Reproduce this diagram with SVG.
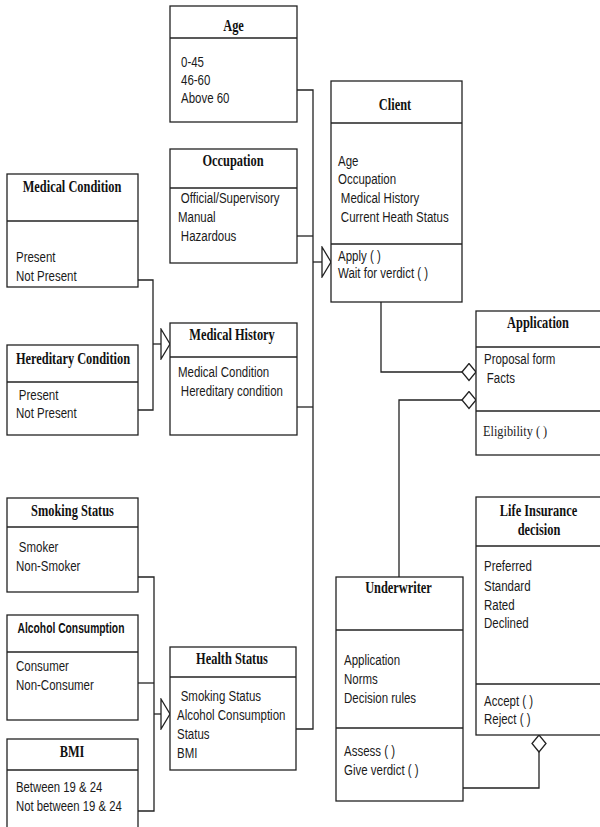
<svg xmlns="http://www.w3.org/2000/svg" width="600" height="827" viewBox="0 0 600 827">
  <style>
    .box { fill: #ffffff; stroke: #222222; stroke-width: 1.3; }
    .div { stroke: #222222; stroke-width: 1.3; }
    .title { font-family: "Liberation Serif", "Times New Roman", serif; font-weight: bold; font-size: 16.5px; fill: #111111; text-anchor: middle; }
    .title-sans { font-family: "Liberation Sans", Arial, sans-serif; font-weight: bold; font-size: 14.5px; fill: #111111; text-anchor: middle; }
    .items text { font-family: "Liberation Sans", Arial, sans-serif; font-size: 14px; fill: #1a1a1a; }
    .serif-item { font-family: "Liberation Serif", "Times New Roman", serif; font-size: 15px; fill: #1a1a1a; }
    .conn path { fill: none; stroke: #222222; stroke-width: 1.3; }
  </style>
  <defs>
    <!-- hollow generalization head, pointing along the path -->
    <marker id="tri" viewBox="0 0 11 32" markerWidth="11" markerHeight="32" refX="10" refY="16" orient="auto" markerUnits="userSpaceOnUse">
      <path d="M1,1 L10,16 L1,31 Z" fill="#ffffff" stroke="#222222" stroke-width="1.3"/>
    </marker>
    <!-- hollow aggregation diamond for horizontal ends -->
    <marker id="dia-h" viewBox="0 0 16 19" markerWidth="16" markerHeight="19" refX="15" refY="9.5" orient="auto" markerUnits="userSpaceOnUse">
      <path d="M1,9.5 L8,1 L15,9.5 L8,18 Z" fill="#ffffff" stroke="#222222" stroke-width="1.3"/>
    </marker>
    <!-- hollow aggregation diamond for vertical ends -->
    <marker id="dia-v" viewBox="0 0 19 16" markerWidth="19" markerHeight="16" refX="18" refY="8" orient="auto" markerUnits="userSpaceOnUse">
      <path d="M1,8 L9.5,1 L18,8 L9.5,15 Z" fill="#ffffff" stroke="#222222" stroke-width="1.3"/>
    </marker>
  </defs>

  <rect width="600" height="827" fill="#ffffff"/>

  <g id="connectors" class="conn">
    <!-- attribute classes feeding Client -->
    <path d="M297,90 H313 V729 H296"/>
    <path d="M297,236 H313"/>
    <path d="M297,407 H313"/>
    <path d="M313,262 H331" marker-end="url(#tri)"/>
    <!-- conditions feeding Medical History -->
    <path d="M138,280 H153 V410 H138"/>
    <path d="M153,344 H170" marker-end="url(#tri)"/>
    <!-- lifestyle factors feeding Health Status -->
    <path d="M138,577 H154 V811 H138"/>
    <path d="M138,683 H154"/>
    <path d="M154,714 H170" marker-end="url(#tri)"/>
    <!-- aggregations -->
    <path d="M381,302 V372 H476" marker-end="url(#dia-h)"/>
    <path d="M399,577 V400 H476" marker-end="url(#dia-h)"/>
    <path d="M463,788 H539 V735" marker-end="url(#dia-v)"/>
  </g>

  <g id="age">
    <rect class="box" x="170" y="6" width="127" height="116"/>
    <line class="div" x1="170" y1="38" x2="297" y2="38"/>
    <text class="title" transform="translate(233.5 31) scale(0.75 1)">Age</text>
    <g class="items" transform="translate(181 0) scale(0.82 1)">
      <text x="0" y="67">0-45</text>
      <text x="0" y="85">46-60</text>
      <text x="0" y="103">Above 60</text>
    </g>
  </g>

  <g id="occupation">
    <rect class="box" x="170" y="149" width="127" height="114"/>
    <line class="div" x1="170" y1="188" x2="297" y2="188"/>
    <text class="title" transform="translate(233 166) scale(0.75 1)">Occupation</text>
    <g class="items" transform="translate(178 0) scale(0.82 1)">
      <text x="3.5" y="203">Official/Supervisory</text>
      <text x="0" y="222">Manual</text>
      <text x="3.5" y="241">Hazardous</text>
    </g>
  </g>

  <g id="client">
    <rect class="box" x="331" y="81" width="131" height="221"/>
    <line class="div" x1="331" y1="123" x2="462" y2="123"/>
    <line class="div" x1="331" y1="244" x2="462" y2="244"/>
    <text class="title" transform="translate(395 110) scale(0.75 1)">Client</text>
    <g class="items" transform="translate(338 0) scale(0.82 1)">
      <text x="0" y="166">Age</text>
      <text x="0" y="184">Occupation</text>
      <text x="3.5" y="203">Medical History</text>
      <text x="3.5" y="222">Current Heath Status</text>
      <text x="0" y="261">Apply ( )</text>
      <text x="0" y="278">Wait for verdict ( )</text>
    </g>
  </g>

  <g id="medical-condition">
    <rect class="box" x="7" y="174" width="131" height="113"/>
    <line class="div" x1="7" y1="221" x2="138" y2="221"/>
    <text class="title" transform="translate(72 192) scale(0.75 1)">Medical Condition</text>
    <g class="items" transform="translate(16 0) scale(0.82 1)">
      <text x="0" y="262">Present</text>
      <text x="0" y="281">Not Present</text>
    </g>
  </g>

  <g id="hereditary-condition">
    <rect class="box" x="7" y="345" width="131" height="90"/>
    <line class="div" x1="7" y1="382" x2="138" y2="382"/>
    <text class="title" transform="translate(73 364) scale(0.75 1)">Hereditary  Condition</text>
    <g class="items" transform="translate(16 0) scale(0.82 1)">
      <text x="3.5" y="400">Present</text>
      <text x="0" y="418">Not Present</text>
    </g>
  </g>

  <g id="medical-history">
    <rect class="box" x="170" y="323" width="127" height="112"/>
    <line class="div" x1="170" y1="357" x2="297" y2="357"/>
    <text class="title" transform="translate(232 340) scale(0.75 1)">Medical History</text>
    <g class="items" transform="translate(178 0) scale(0.82 1)">
      <text x="0" y="377">Medical Condition</text>
      <text x="3.5" y="396">Hereditary condition</text>
    </g>
  </g>

  <g id="application">
    <rect class="box" x="476" y="311" width="130" height="144"/>
    <line class="div" x1="476" y1="347" x2="606" y2="347"/>
    <line class="div" x1="476" y1="411" x2="606" y2="411"/>
    <text class="title" transform="translate(538 328) scale(0.75 1)">Application</text>
    <g class="items" transform="translate(484 0) scale(0.82 1)">
      <text x="0" y="364">Proposal form</text>
      <text x="3.5" y="383">Facts</text>
    </g>
    <text class="serif-item" transform="translate(483 436) scale(0.82 1)">Eligibility ( )</text>
  </g>

  <g id="smoking-status">
    <rect class="box" x="7" y="498" width="131" height="94"/>
    <line class="div" x1="7" y1="527" x2="138" y2="527"/>
    <text class="title" transform="translate(72.5 516) scale(0.75 1)">Smoking Status</text>
    <g class="items" transform="translate(16 0) scale(0.82 1)">
      <text x="3.5" y="552">Smoker</text>
      <text x="0" y="571">Non-Smoker</text>
    </g>
  </g>

  <g id="alcohol-consumption">
    <rect class="box" x="7" y="615" width="131" height="105"/>
    <line class="div" x1="7" y1="652" x2="138" y2="652"/>
    <text class="title-sans" transform="translate(71 633) scale(0.71 1)">Alcohol Consumption</text>
    <g class="items" transform="translate(16 0) scale(0.82 1)">
      <text x="0" y="671">Consumer</text>
      <text x="0" y="690">Non-Consumer</text>
    </g>
  </g>

  <g id="bmi">
    <rect class="box" x="7" y="739" width="131" height="100"/>
    <line class="div" x1="7" y1="770" x2="138" y2="770"/>
    <text class="title" transform="translate(72 757) scale(0.75 1)">BMI</text>
    <g class="items" transform="translate(16 0) scale(0.81 1)">
      <text x="0" y="792">Between 19 &amp; 24</text>
      <text x="0" y="811">Not between 19 &amp; 24</text>
    </g>
  </g>

  <g id="health-status">
    <rect class="box" x="170" y="647" width="126" height="123"/>
    <line class="div" x1="170" y1="677" x2="296" y2="677"/>
    <text class="title" transform="translate(232 664) scale(0.75 1)">Health Status</text>
    <g class="items" transform="translate(177 0) scale(0.82 1)">
      <text x="4.5" y="701">Smoking Status</text>
      <text x="0" y="720">Alcohol Consumption</text>
      <text x="0" y="739">Status</text>
      <text x="0" y="758">BMI</text>
    </g>
  </g>

  <g id="underwriter">
    <rect class="box" x="336" y="577" width="127" height="224"/>
    <line class="div" x1="336" y1="630" x2="463" y2="630"/>
    <line class="div" x1="336" y1="728" x2="463" y2="728"/>
    <text class="title" transform="translate(398.5 593) scale(0.75 1)">Underwriter</text>
    <g class="items" transform="translate(344 0) scale(0.82 1)">
      <text x="0" y="665">Application</text>
      <text x="0" y="684">Norms</text>
      <text x="0" y="703">Decision rules</text>
      <text x="0" y="756">Assess ( )</text>
      <text x="0" y="775">Give verdict ( )</text>
    </g>
  </g>

  <g id="life-insurance-decision">
    <rect class="box" x="476" y="497" width="130" height="238"/>
    <line class="div" x1="476" y1="546" x2="606" y2="546"/>
    <line class="div" x1="476" y1="684" x2="606" y2="684"/>
    <text class="title" transform="translate(538.5 516) scale(0.75 1)">Life Insurance</text>
    <text class="title" transform="translate(539 535) scale(0.75 1)">decision</text>
    <g class="items" transform="translate(484 0) scale(0.82 1)">
      <text x="0" y="571">Preferred</text>
      <text x="0" y="591">Standard</text>
      <text x="0" y="610">Rated</text>
      <text x="0" y="628">Declined</text>
      <text x="0" y="706">Accept ( )</text>
      <text x="0" y="724">Reject ( )</text>
    </g>
  </g>
</svg>
